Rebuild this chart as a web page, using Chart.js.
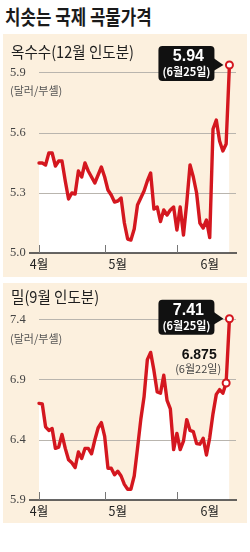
<!DOCTYPE html>
<html>
<head>
<meta charset="utf-8">
<script src="https://cdn.jsdelivr.net/npm/chart.js@4.4.1/dist/chart.umd.min.js"></script>
<style>
    body { margin: 0; background: #fff; width: 250px; height: 552px; position: relative; overflow: hidden; font-family: "Noto Sans CJK KR", sans-serif; }
    .title { position: absolute; left: 5px; top: 7px; font-size: 20px; line-height: 1; font-weight: 700; color: #1a1a1a; white-space: nowrap; transform: scaleX(0.84); transform-origin: 0 0; }
    .panel { position: absolute; left: 3px; width: 244px; background: #fcf0de; }
    .panel canvas { position: absolute; left: 0; top: 0; }
    .head { position: absolute; left: 8px; font-size: 16px; line-height: 1; color: #1e1e1e; white-space: nowrap; transform: scaleX(0.91); transform-origin: 0 0; z-index: 2; }
    .unit { position: absolute; left: 7px; font-size: 11px; line-height: 1; color: #555; white-space: nowrap; z-index: 2; }
</style>
</head>
<body>
<div class="title">치솟는 국제 곡물가격</div>

<div class="panel" style="top:34px;height:243px">
    <canvas id="cornChart" width="244" height="243"></canvas>
    <div class="head" style="top:9px">옥수수(12월 인도분)</div>
    <div class="unit" style="top:51px">(달러/부셸)</div>
</div>

<div class="panel" style="top:283px;height:240px">
    <canvas id="wheatChart" width="244" height="240"></canvas>
    <div class="head" style="top:5px">밀(9월 인도분)</div>
    <div class="unit" style="top:50px">(달러/부셸)</div>
</div>

<script>
// trading days, 2 Apr - 25 Jun
const days = [
    '4/2','4/3','4/4','4/5','4/9','4/10','4/11','4/12','4/13','4/16',
    '4/17','4/18','4/19','4/20','4/23','4/24','4/25','4/26','4/27','4/30',
    '5/1','5/2','5/3','5/4','5/7','5/8','5/9','5/10','5/11','5/14',
    '5/15','5/16','5/17','5/18','5/21','5/22','5/23','5/24','5/25','5/29',
    '5/30','5/31','6/1','6/4','6/5','6/6','6/7','6/8','6/11','6/12',
    '6/13','6/14','6/15','6/18','6/19','6/20','6/21','6/22','6/25'
];

// corn, Dec delivery ($/bu)
const cornPrice = [
    5.45, 5.45, 5.44, 5.50, 5.50, 5.435, 5.46, 5.46, 5.36, 5.27,
    5.30, 5.295, 5.41, 5.38, 5.45, 5.41, 5.38, 5.35, 5.39, 5.43,
    5.38, 5.315, 5.29, 5.255, 5.26, 5.275, 5.15, 5.07, 5.065, 5.12,
    5.24, 5.275, 5.31, 5.36, 5.40, 5.22, 5.23, 5.157, 5.215, 5.19,
    5.215, 5.23, 5.115, 5.23, 5.09, 5.25, 5.44, 5.38, 5.30, 5.15,
    5.125, 5.165, 5.077, 5.62, 5.665, 5.56, 5.51, 5.545, 5.94
];

// wheat, Sep delivery ($/bu)
const wheatPrice = [
    6.705, 6.70, 6.51, 6.48, 6.495, 6.33, 6.34, 6.447, 6.33, 6.235,
    6.21, 6.17, 6.30, 6.245, 6.33, 6.33, 6.285, 6.40, 6.50, 6.545,
    6.43, 6.165, 6.165, 6.11, 6.14, 6.10, 6.03, 5.99, 5.99, 6.10,
    6.33, 6.57, 6.76, 7.07, 7.13, 6.98, 6.80, 6.79, 6.94, 6.73,
    6.66, 6.32, 6.455, 6.32, 6.39, 6.57, 6.48, 6.47, 6.37, 6.365,
    6.415, 6.275, 6.42, 6.62, 6.78, 6.82, 6.79, 6.875, 7.41
];

const cornTicks = [5.0, 5.3, 5.6, 5.9];
const wheatTicks = [5.9, 6.4, 6.9, 7.4];

const monthTickIdx = [0, 20, 42];
const monthLabelIdx = [0, 24, 52];
const monthNames = ['4월', '5월', '6월'];

const RED = '#d4171f';

// baseline + month tick marks pointing up into the plot
const axisDeco = {
    id: 'axisDeco',
    afterDraw(chart) {
        const {ctx, chartArea, scales: {x}} = chart;
        ctx.save();
        ctx.strokeStyle = '#333';
        ctx.lineWidth = 1.5;
        ctx.beginPath();
        ctx.moveTo(26, chartArea.bottom);
        ctx.lineTo(chartArea.right + 1, chartArea.bottom);
        ctx.stroke();
        ctx.lineWidth = 1;
        ctx.strokeStyle = '#777';
        monthTickIdx.forEach(i => {
            const px = Math.round(x.getPixelForValue(i)) + 0.5;
            ctx.beginPath();
            ctx.moveTo(px, chartArea.bottom - 8);
            ctx.lineTo(px, chartArea.bottom);
            ctx.stroke();
        });
        ctx.restore();
    }
};

// black callout box for the last value, plus optional plain note
const callout = {
    id: 'callout',
    afterDatasetsDraw(chart, args, opts) {
        const {ctx} = chart;
        const pts = chart.getDatasetMeta(0).data;
        const pt = pts[opts.idx];
        const bw = 56, bh = 35;
        const bx = pt.x - 15 - bw, by = pt.y - 19;
        ctx.save();
        ctx.fillStyle = '#111';
        ctx.beginPath();
        ctx.roundRect(bx, by, bw, bh, 4);
        ctx.fill();
        ctx.beginPath();
        ctx.moveTo(bx + bw - 1, pt.y - 7);
        ctx.lineTo(pt.x - 6, pt.y);
        ctx.lineTo(bx + bw - 1, pt.y + 6);
        ctx.closePath();
        ctx.fill();

        ctx.fillStyle = '#fff';
        ctx.textAlign = 'center';
        ctx.textBaseline = 'middle';
        ctx.font = 'bold 16px "Liberation Sans", Arial, sans-serif';
        ctx.fillText(opts.value, bx + bw / 2 + 2, by + 11);
        ctx.font = 'bold 11px "Noto Sans CJK KR", sans-serif';
        ctx.fillText(opts.date, bx + bw / 2, by + 26);

        if (opts.note) {
            const np = pts[opts.note.idx];
            ctx.fillStyle = '#111';
            ctx.font = 'bold 14px "Liberation Sans", Arial, sans-serif';
            ctx.fillText(opts.note.value, np.x - 27, np.y - 28);
            ctx.fillStyle = '#444';
            ctx.font = '11px "Noto Sans CJK KR", sans-serif';
            ctx.fillText(opts.note.date, np.x - 28, np.y - 14);
        }
        ctx.restore();
    }
};

function createChart(id, cfg) {
    return new Chart(document.getElementById(id), {
        type: 'line',
        data: {
            labels: days.concat(['', '']),
            datasets: [{
                data: cfg.values,
                borderColor: RED,
                borderWidth: 3.4,
                borderJoinStyle: 'round',
                borderCapStyle: 'round',
                tension: 0,
                fill: 'start',
                backgroundColor: '#ffffff',
                pointRadius: c => cfg.marks.includes(c.dataIndex) ? 3.5 : 0,
                pointBackgroundColor: '#fff',
                pointBorderColor: RED,
                pointBorderWidth: 2
            }]
        },
        options: {
            responsive: false,
            animation: false,
            devicePixelRatio: 1,
            layout: { padding: { top: cfg.padTop, left: 7, right: 11, bottom: 0 } },
            plugins: {
                legend: { display: false },
                tooltip: { enabled: false },
                filler: { drawTime: 'beforeDraw' },
                callout: cfg.callout
            },
            scales: {
                x: {
                    grid: { display: false, drawTicks: false },
                    border: { display: false },
                    afterFit: s => { s.height = cfg.axisH; },
                    ticks: {
                        autoSkip: false,
                        maxRotation: 0,
                        padding: 4,
                        color: '#222',
                        font: { family: 'Noto Sans CJK KR', size: 12.5 },
                        callback: (v, i) => {
                            const k = monthLabelIdx.indexOf(i);
                            return k >= 0 ? monthNames[k] : '';
                        }
                    }
                },
                y: {
                    min: cfg.min,
                    max: cfg.max,
                    afterBuildTicks: s => { s.ticks = cfg.ticks.map(v => ({ value: v })); },
                    afterFit: s => { s.width = 29; },
                    border: { display: false },
                    grid: {
                        drawTicks: false,
                        lineWidth: 1,
                        color: c => (c.tick && c.tick.value === cfg.min) ? 'rgba(0,0,0,0)' : '#b9b5ae'
                    },
                    ticks: {
                        crossAlign: 'far',
                        color: '#444',
                        font: { family: 'Liberation Sans Narrow', size: 12.5 },
                        callback: v => Number(v).toFixed(1)
                    }
                }
            }
        },
        plugins: [axisDeco, callout]
    });
}

const cornChart = createChart('cornChart', {
    values: cornPrice,
    marks: [58],
    min: 5.0, max: 6.0,
    ticks: cornTicks,
    padTop: 19, axisH: 24,
    callout: { idx: 58, value: '5.94', date: '(6월25일)' }
});

const wheatChart = createChart('wheatChart', {
    values: wheatPrice,
    marks: [57, 58],
    min: 5.9, max: 7.5,
    ticks: wheatTicks,
    padTop: 25, axisH: 23,
    callout: { idx: 58, value: '7.41', date: '(6월25일)',
               note: { idx: 57, value: '6.875', date: '(6월22일)' } }
});
</script>
</body>
</html>
